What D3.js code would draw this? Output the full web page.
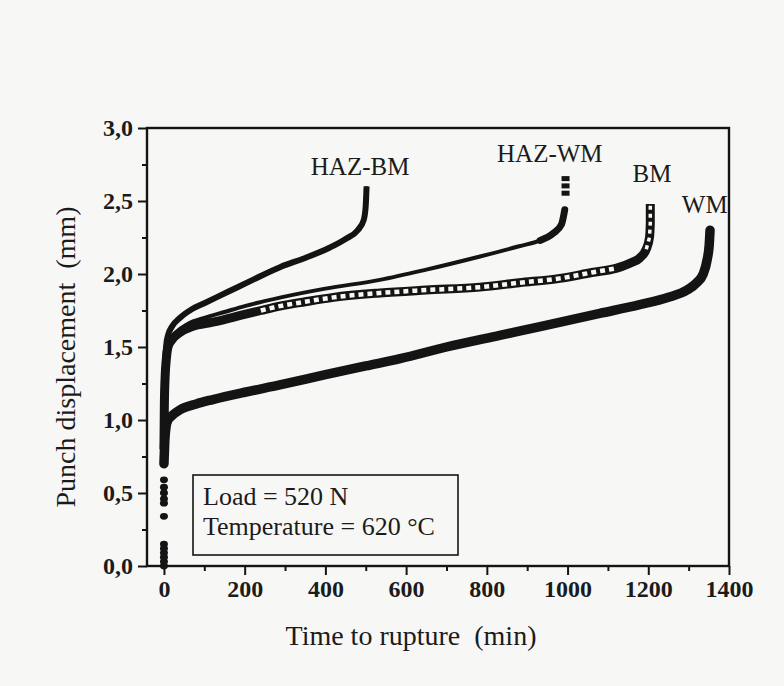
<!DOCTYPE html>
<html><head><meta charset="utf-8">
<script src="https://cdn.jsdelivr.net/npm/d3@7"></script>
<style>
html,body{margin:0;padding:0;background:#f7f7f5;}
svg{display:block;}
text{font-family:"Liberation Serif","Times New Roman",serif;fill:#1b1b1b;}
</style></head>
<body>
<svg id="chart" width="784" height="686"></svg>
<script>
// ---- data (time in min, punch displacement in mm) ----
const hazBmT = [0,1,3,6,10,20,40,70,100,160,220,290,350,410,450,480,495,500,502];
const hazBmV = [0.7,1.1,1.4,1.52,1.58,1.64,1.7,1.76,1.8,1.88,1.96,2.05,2.11,2.18,2.24,2.3,2.37,2.47,2.6];

const hazWmT = [0,2,5,10,30,60,100,150,200,290,400,535,650,783,880,932,965,985,993];
const hazWmV = [0.9,1.3,1.45,1.52,1.6,1.66,1.7,1.74,1.78,1.84,1.9,1.96,2.03,2.12,2.19,2.23,2.28,2.34,2.44];
const hazWmTopT = [995,995,995];
const hazWmTopV = [2.55,2.6,2.65];

const bmT = [0,1,3,6,10,20,40,70,121,180,240,287,350,420,535,650,783,880,981,1060,1122,1160,1179,1195,1203,1205,1205];
const bmV = [0.8,1.1,1.3,1.42,1.5,1.55,1.6,1.64,1.67,1.71,1.75,1.78,1.81,1.84,1.87,1.89,1.91,1.94,1.97,2.01,2.04,2.08,2.11,2.17,2.25,2.35,2.48];

const wmT = [0,2,5,10,20,40,80,121,200,287,400,500,585,700,832,932,1080,1179,1250,1296,1320,1336,1346,1351,1353];
const wmV = [0.7,0.85,0.95,1.0,1.03,1.07,1.11,1.14,1.19,1.24,1.31,1.37,1.42,1.5,1.58,1.64,1.73,1.79,1.84,1.89,1.94,2.0,2.1,2.2,2.3];

const startT = [0,0,0,0,0,0,0,0,0,0,0,0];
const startV = [0.0,0.03,0.06,0.09,0.12,0.15,0.34,0.43,0.46,0.5,0.54,0.59];

const xTicks = [0,200,400,600,800,1000,1200,1400];
const xMinor = [100,300,500,700,900,1100,1300];
const yTicks = [0,0.5,1.0,1.5,2.0,2.5,3.0];
const yMinor = [0.25,0.75,1.25,1.75,2.25,2.75];

const curveNames = ["HAZ-BM","HAZ-WM","BM","WM"];
const labelT = [486,956,1209,1340];   // label centre, in data units
const labelV = [2.68,2.77,2.63,2.42]; // label baseline, in data units
const infoLines = ["Load = 520 N","Temperature = 620 °C"];

// ---- drawing ----
const svg = d3.select("#chart");
const ink = "#141414";
const bg = "#f7f7f5";
const x = d3.scaleLinear().domain([-42,1400]).range([147,729]);
const y = d3.scaleLinear().domain([0,3]).range([566,128]);
const zip = (a,b)=>a.map((t,i)=>[t,b[i]]);
const line = d3.line().x(d=>x(d[0])).y(d=>y(d[1])).curve(d3.curveMonotoneX);
const lineL = d3.line().x(d=>x(d[0])).y(d=>y(d[1])).curve(d3.curveLinear);

// frame
svg.append("rect").attr("x",x(-42)).attr("y",y(3)).attr("width",x(1400)-x(-42)).attr("height",y(0)-y(3))
  .attr("fill","none").attr("stroke",ink).attr("stroke-width",2.4);

// x axis
svg.append("g").attr("transform",`translate(0,${y(0)})`)
  .call(d3.axisBottom(x).tickValues(xTicks).tickSize(9).tickPadding(5).tickFormat(d3.format("d")));
svg.append("g").attr("transform",`translate(0,${y(0)})`)
  .call(d3.axisBottom(x).tickValues(xMinor).tickSize(5).tickFormat(""));
// y axis
const fmtY = v=>d3.format(".1f")(v).replace(".",",");
svg.append("g").attr("transform",`translate(${x(-42)},0)`)
  .call(d3.axisLeft(y).tickValues(yTicks).tickSize(9).tickPadding(5).tickFormat(fmtY));
svg.append("g").attr("transform",`translate(${x(-42)},0)`)
  .call(d3.axisLeft(y).tickValues(yMinor).tickSize(5).tickFormat(""));
svg.selectAll(".domain").remove();
svg.selectAll(".tick line").attr("stroke",ink).attr("stroke-width",2);
svg.selectAll(".tick text").style("font-family",'"Liberation Serif",serif').style("font-size","24px")
  .style("font-weight","bold").attr("fill",ink);

// axis titles
svg.append("text").attr("x",411).attr("y",645).attr("text-anchor","middle")
  .style("font-size","28px").style("white-space","pre").text("Time to rupture  (min)");
svg.append("text").attr("transform","translate(75,357) rotate(-90)").attr("text-anchor","middle")
  .style("font-size","28px").style("white-space","pre").text("Punch displacement  (mm)");

// start scatter near t=0
svg.append("g").selectAll("ellipse").data(zip(startT,startV)).join("ellipse")
  .attr("cx",d=>x(d[0])).attr("cy",d=>y(d[1])).attr("rx",4).attr("ry",3.4).attr("fill",ink);

// WM
svg.append("path").datum(zip(wmT,wmV)).attr("d",line).attr("fill","none")
  .attr("stroke",ink).attr("stroke-width",9.5).attr("stroke-linecap","round");
// HAZ-WM
svg.append("path").datum(zip(hazWmT,hazWmV)).attr("d",line).attr("fill","none")
  .attr("stroke",ink).attr("stroke-width",4).attr("stroke-linecap","round");
svg.append("path").datum(zip(hazWmT,hazWmV).filter(d=>d[0]>=930)).attr("d",line).attr("fill","none")
  .attr("stroke",ink).attr("stroke-width",7).attr("stroke-linecap","round");
svg.append("g").selectAll("rect").data(zip(hazWmTopT,hazWmTopV)).join("rect")
  .attr("x",d=>x(d[0])-4).attr("y",d=>y(d[1])-3).attr("width",8).attr("height",5).attr("fill",ink);
// BM (open squares look: black band with white windows)
const bmData = zip(bmT,bmV);
svg.append("path").datum(bmData).attr("d",line).attr("fill","none")
  .attr("stroke",ink).attr("stroke-width",9);
svg.append("path").datum(bmData.filter(d=>d[0]>=240 && d[0]<=1122)).attr("d",line).attr("fill","none")
  .attr("stroke",bg).attr("stroke-width",4.5).attr("stroke-dasharray","5 4");
svg.append("path").datum(bmData.filter(d=>d[0]>=1195)).attr("d",lineL).attr("fill","none")
  .attr("stroke",bg).attr("stroke-width",3.5).attr("stroke-dasharray","4 4");
// HAZ-BM
svg.append("path").datum(zip(hazBmT,hazBmV)).attr("d",line).attr("fill","none")
  .attr("stroke",ink).attr("stroke-width",6);
svg.append("path").datum(zip(hazBmT,hazBmV).filter(d=>d[0]>=495)).attr("d",lineL).attr("fill","none")
  .attr("stroke",ink).attr("stroke-width",3);

// curve labels
svg.append("g").selectAll("text").data(curveNames).join("text")
  .attr("x",(d,i)=>x(labelT[i])).attr("y",(d,i)=>y(labelV[i])).attr("text-anchor","middle")
  .style("font-size","25px").text(d=>d);

// info box
const box = svg.append("g");
box.append("rect").attr("x",193).attr("y",475).attr("width",265).attr("height",80)
  .attr("fill","none").attr("stroke",ink).attr("stroke-width",1.6);
box.selectAll("text").data(infoLines).join("text").attr("x",203).attr("y",(d,i)=>505+i*30)
  .style("font-size","26px").text(d=>d);
</script>
</body></html>
